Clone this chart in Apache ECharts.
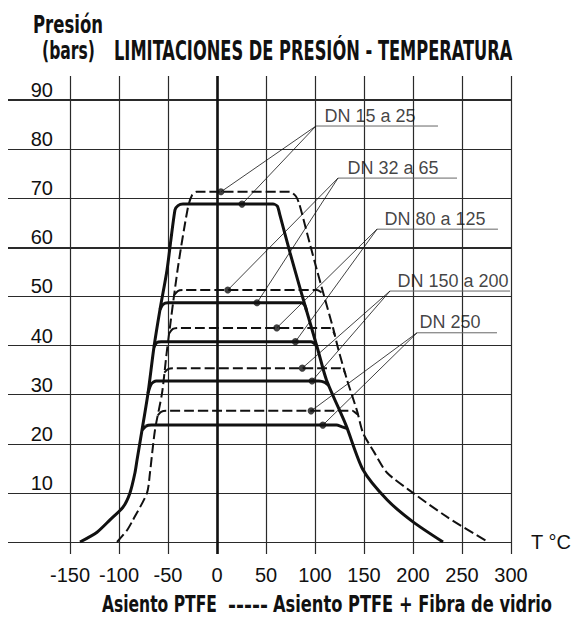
<!DOCTYPE html>
<html>
<head>
<meta charset="utf-8">
<script src="https://cdn.jsdelivr.net/npm/echarts@6/dist/echarts.min.js"></script>
<style>html,body{margin:0;padding:0;background:#fff}#c{width:578px;height:619px}</style>
</head>
<body>
<div id="c"></div>
<script>
// ---------- DATA (temperature °C, pressure bar) ----------
const ptfeEnvelope = [[-139.8,0],[-122.4,2.0],[-109.2,4.5],[-95.9,7.1],[-88.8,10],[-83.7,14.1],[-81.6,16.7],[-76.5,22.8],[-70.4,30.3],[-64.3,39.7],[-58.2,47.3],[-51,55.4],[-42.9,67.6],[-39.8,68.5],[-34.7,68.8],[57.1,68.8],[61.5,68.4],[64.3,66.5],[74.5,58.9],[84.7,51.7],[103,39.1],[111.7,33],[131.6,23.8],[149,14.7],[173.5,8.6],[200,4.1],[230.6,0]];
const ptfe32 = [[-58.2,47.3],[-55,48.4],[-50,48.7],[86,48.7],[89.5,48.2],[91.5,47]];
const ptfe80 = [[-64.3,39.7],[-61.5,40.6],[-57,40.8],[96,40.8],[99.5,40.4],[102,39.7]];
const ptfe150 = [[-70.4,30.3],[-67,32.2],[-62,32.8],[104,32.8],[110,32.5],[114,31.9]];
const ptfe250 = [[-76.5,22.8],[-72.5,23.6],[-67,23.8],[122,23.8],[127,23.5],[133,23.1]];

const fibraEnvelope = [[-102,0],[-91.8,2.4],[-85.7,4.5],[-71.4,10],[-68.4,14.1],[-63.3,22.8],[-56.1,30.3],[-51,39.1],[-39.8,56],[-29.6,68.2],[-25.5,70.6],[-21,71.3],[74.5,71.3],[80.5,70.4],[84,68.8],[92.4,62.5],[100,56.8],[109,50.3],[118.4,43.6],[124,39.1],[132.7,33],[142.9,26.7],[149,22.2],[160,18.4],[173.5,14.1],[200,10],[234.7,5.1],[276.5,0]];
const fibra32 = [[-43.6,50.3],[-40,51.1],[-35,51.3],[102,51.3],[106,50.9],[109,50.3]];
const fibra80 = [[-48.7,42.5],[-45,43.4],[-40,43.6],[115,43.6],[118,43.1],[120.2,42.2]];
const fibra150 = [[-53.7,34.5],[-50,35.2],[-45,35.4],[126,35.4],[129,35.1],[131,34.2]];
const fibra250 = [[-60.4,25.8],[-57,26.5],[-52,26.7],[138,26.7],[141.5,26.3],[144,25.9]];

const calloutNames = ['DN 15 a 25','DN 32 a 65','DN 80 a 125','DN 150 a 200','DN 250'];
const calloutAnchors = [[101,84.7],[123.5,74.1],[163.3,63.7],[176.5,51.1],[204.1,42.6]];
const calloutLineEnds = [225.5,244.9,286.7,299,285.7];
const calloutTextT = [110.2,133.7,171.4,184.7,207.1];
const dotsFibra = [[4,71.3],[11,51.3],[61,43.6],[87,35.4],[96,26.7]];
const dotsPtfe = [[25.5,68.8],[40.8,48.7],[80,40.8],[97,32.8],[108,23.8]];

const tempMin = -150, tempMax = 300, tempStep = 50;
const presMin = 0, presMax = 90, presStep = 10;

// ---------- CHART ----------
const INK = '#111';
const GRID = '#2a2a2a';
const SANS = '"Liberation Sans", Arial, Helvetica, sans-serif';
const COND = '"Liberation Sans Narrow", "DejaVu Sans Condensed", "Arial Narrow", sans-serif';

const mctx = document.createElement('canvas').getContext('2d');
function fitText(str, left, right, cy, size) {
  mctx.font = 'bold ' + size + 'px ' + COND;
  const w = mctx.measureText(str).width || 1;
  return {
    type: 'text', x: left, y: cy, scaleX: (right - left) / w,
    style: { text: str, fontSize: size, fontWeight: 'bold', fontFamily: COND,
             fill: INK, align: 'left', verticalAlign: 'middle' }
  };
}

const solidStyle = { color: INK, width: 3 };
const dashStyle = { color: INK, width: 2, type: [10, 4] };

function curve(name, data, style) {
  return { name, type: 'line', xAxisIndex: 0, yAxisIndex: 0, data,
           smooth: 0.25, symbol: 'none', lineStyle: style, z: 5, silent: true };
}

const series = [
  // emphasised grid lines
  { type: 'line', xAxisIndex: 1, yAxisIndex: 1, data: [], silent: true,
    markLine: { silent: true, symbol: 'none', label: { show: false },
      lineStyle: { color: GRID, width: 2.2, type: 'solid' },
      data: [{ yAxis: 60 }, { yAxis: 90 }] } },
  { type: 'line', xAxisIndex: 2, yAxisIndex: 2, data: [], silent: true,
    markLine: { silent: true, symbol: 'none', label: { show: false },
      lineStyle: { color: INK, width: 2.6, type: 'solid' },
      data: [{ xAxis: 0 }] } },
  curve('Asiento PTFE', ptfeEnvelope, solidStyle),
  curve('PTFE 32-65', ptfe32, solidStyle),
  curve('PTFE 80-125', ptfe80, solidStyle),
  curve('PTFE 150-200', ptfe150, solidStyle),
  curve('PTFE 250', ptfe250, solidStyle),
  curve('Asiento PTFE + Fibra de vidrio', fibraEnvelope, dashStyle),
  curve('Fibra 32-65', fibra32, dashStyle),
  curve('Fibra 80-125', fibra80, dashStyle),
  curve('Fibra 150-200', fibra150, dashStyle),
  curve('Fibra 250', fibra250, dashStyle)
];

calloutNames.forEach((nm, i) => {
  const a = calloutAnchors[i];
  series.push({ type: 'line', xAxisIndex: 0, yAxisIndex: 0, silent: true, symbol: 'none',
    data: [a, [calloutLineEnds[i], a[1]]], lineStyle: { color: '#666', width: 1 }, z: 6 });
  [dotsFibra[i], dotsPtfe[i]].forEach(d => {
    series.push({ type: 'line', xAxisIndex: 0, yAxisIndex: 0, silent: true, symbol: 'none',
      data: [a, d], lineStyle: { color: INK, width: 0.8 }, z: 6 });
  });
});

series.push({ type: 'scatter', xAxisIndex: 0, yAxisIndex: 0, silent: true,
  data: dotsFibra.concat(dotsPtfe), symbolSize: 7, itemStyle: { color: INK }, z: 8 });

series.push({ type: 'scatter', xAxisIndex: 0, yAxisIndex: 0, silent: true,
  data: calloutNames.map((nm, i) => ({ value: [calloutTextT[i], calloutAnchors[i][1]], name: nm })),
  symbolSize: 1, itemStyle: { color: 'rgba(0,0,0,0)' }, z: 9,
  label: { show: true, formatter: p => p.name, position: [0, -1], align: 'left',
           verticalAlign: 'bottom', fontSize: 18, fontFamily: SANS, color: INK } });

const option = {
  animation: false,
  backgroundColor: '#fff',
  grid: [
    { left: 70, right: 67, top: 100, bottom: 77, outerBoundsMode: 'none' },
    { left: 8, right: 67, top: 100, bottom: 77, outerBoundsMode: 'none' },
    { left: 70, right: 67, top: 76, bottom: 65, outerBoundsMode: 'none' }
  ],
  xAxis: [
    { gridIndex: 0, type: 'value', min: tempMin, max: tempMax, interval: tempStep,
      axisLine: { show: false }, axisTick: { show: false }, splitLine: { show: false },
      axisLabel: { margin: 23, fontSize: 20, fontFamily: SANS, color: INK },
      name: 'T °C', nameLocation: 'end', nameGap: 20,
      nameTextStyle: { fontSize: 20, fontFamily: SANS, color: INK, align: 'left', verticalAlign: 'middle' } },
    { gridIndex: 1, type: 'value', min: 0, max: 1, show: false },
    { gridIndex: 2, type: 'value', min: tempMin, max: tempMax, interval: tempStep,
      axisLine: { show: false }, axisTick: { show: false }, axisLabel: { show: false },
      splitLine: { show: true, lineStyle: { color: GRID, width: 1.2 } } }
  ],
  yAxis: [
    { gridIndex: 0, type: 'value', min: presMin, max: presMax, interval: presStep,
      axisLine: { show: false }, axisTick: { show: false }, splitLine: { show: false },
      axisLabel: { margin: 17, fontSize: 20, fontFamily: SANS, color: INK, verticalAlign: 'bottom',
                   formatter: v => (v === 0 ? '' : String(v)) } },
    { gridIndex: 1, type: 'value', min: presMin, max: presMax, interval: presStep,
      axisLine: { show: false }, axisTick: { show: false }, axisLabel: { show: false },
      splitLine: { show: true, lineStyle: { color: GRID, width: 1.2 } } },
    { gridIndex: 2, type: 'value', min: 0, max: 1, show: false }
  ],
  graphic: [
    fitText('Presión', 33, 103, 24, 25),
    fitText('(bars)', 42, 95, 50.5, 25),
    fitText('LIMITACIONES DE PRESIÓN - TEMPERATURA', 114, 513, 50.3, 26),
    fitText('Asiento PTFE', 102, 217, 604.5, 23),
    fitText('-----', 228, 268, 605, 23),
    fitText('Asiento PTFE + Fibra de vidrio', 273, 552, 604.5, 23)
  ],
  series
};

const chart = echarts.init(document.getElementById('c'), null, { renderer: 'svg' });
chart.setOption(option);
</script>
</body>
</html>
